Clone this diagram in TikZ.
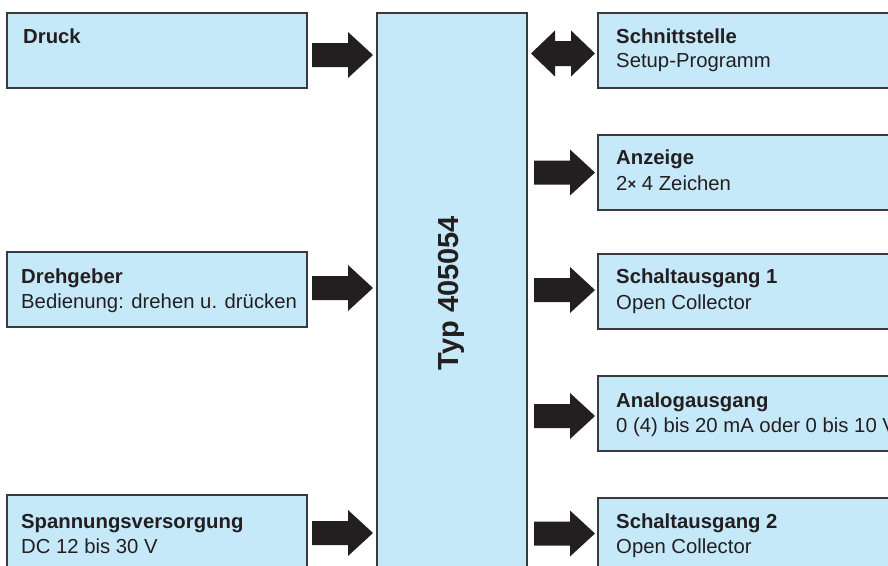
\documentclass[tikz,border=0pt]{standalone}
\usepackage{fontspec}
\setmainfont{Liberation Sans}
\usetikzlibrary{calc}
\definecolor{boxfill}{HTML}{C6E9F9}
\definecolor{boxline}{HTML}{3A3A3C}
\definecolor{arrowfill}{HTML}{231F20}
\definecolor{textcol}{HTML}{231F20}
\tikzset{
  blockbox/.style={draw=boxline, fill=boxfill, line width=1.3pt, rectangle, inner sep=0pt, outer sep=0pt, anchor=north west},
  titletext/.style={anchor=base west, inner sep=0pt, text=textcol, font=\fontsize{20.3}{24}\selectfont\bfseries},
  subtext/.style={anchor=base west, inner sep=0pt, text=textcol, font=\fontsize{20.3}{24}\selectfont},
}
\newcommand\fatarrow[5]{%
  \fill[arrowfill] let \p1=(#1), \p2=(#3), \p3=(0,#5) in
  (\x1+#2,\y3+12pt) -- (\x2-#4-25pt,\y3+12pt) -- (\x2-#4-25pt,\y3+23pt) -- (\x2-#4,\y3)
  -- (\x2-#4-25pt,\y3-23pt) -- (\x2-#4-25pt,\y3-12pt) -- (\x1+#2,\y3-12pt) -- cycle;}
\newcommand\fatdblarrow[5]{%
  \fill[arrowfill] let \p1=(#1), \p2=(#3), \p3=(0,#5) in
  (\x1+#2,\y3) -- (\x1+#2+24pt,\y3+23pt) -- (\x1+#2+24pt,\y3+12.5pt) -- (\x2-#4-24pt,\y3+12.5pt)
  -- (\x2-#4-24pt,\y3+23pt) -- (\x2-#4,\y3) -- (\x2-#4-24pt,\y3-23pt) -- (\x2-#4-24pt,\y3-12.5pt)
  -- (\x1+#2+24pt,\y3-12.5pt) -- (\x1+#2+24pt,\y3-23pt) -- cycle;}
\begin{document}
\begin{tikzpicture}[x=1pt,y=-1pt]
\useasboundingbox (0,0) rectangle (888,565);
\clip (0,0) rectangle (888,565);
% left boxes
\node[blockbox, minimum width=300pt, minimum height=75pt] (druck) at (7,13) {};
\node[blockbox, minimum width=300pt, minimum height=75pt] (dreh) at (7,252) {};
\node[blockbox, minimum width=300pt, minimum height=90pt] (spann) at (7,495) {};
% central box
\node[blockbox, minimum width=150pt, minimum height=580pt] (typ) at (377,13) {};
% right boxes
\node[blockbox, minimum width=310pt, minimum height=75pt] (schnitt) at (598,13) {};
\node[blockbox, minimum width=310pt, minimum height=75pt] (anz) at (598,135) {};
\node[blockbox, minimum width=310pt, minimum height=75pt] (sa1) at (598,254) {};
\node[blockbox, minimum width=310pt, minimum height=75pt] (ana) at (598,376) {};
\node[blockbox, minimum width=310pt, minimum height=90pt] (sa2) at (598,498) {};
% texts
\node[titletext] (druckT) at (23,43) {Druck};
\node[titletext] (drehT) at (21,283) {Drehgeber};
\node[subtext] (drehS) at (21,308) {Bedienung: drehen u. drücken};
\node[titletext] (spannT) at (21,528) {Spannungsversorgung};
\node[subtext] (spannS) at (21,553) {DC 12 bis 30 V};
\node[anchor=center, inner sep=0pt, text=textcol, rotate=90, font=\fontsize{29}{34}\selectfont\bfseries] (typT) at (451,293) {Typ 405054};
\node[titletext] (schnittT) at (616,43) {Schnittstelle};
\node[subtext] (schnittS) at (616,67) {Setup-Programm};
\node[titletext] (anzT) at (616,164) {Anzeige};
\node[subtext] (anzS) at (616,190) {2\raisebox{0.5pt}{\fontsize{15}{15}\selectfont\bfseries×} 4 Zeichen};
\node[titletext] (sa1T) at (616,283) {Schaltausgang 1};
\node[subtext] (sa1S) at (616,309) {Open Collector};
\node[titletext] (anaT) at (616,407) {Analogausgang};
\node[subtext] (anaS) at (616,432) {0 (4) bis 20 mA oder 0 bis 10 V};
\node[titletext] (sa2T) at (616,528) {Schaltausgang 2};
\node[subtext] (sa2S) at (616,553) {Open Collector};
% arrows
\fatarrow{druck.east}{5pt}{typ.west}{4pt}{55}
\fatarrow{dreh.east}{5pt}{typ.west}{4pt}{288}
\fatarrow{spann.east}{5pt}{typ.west}{4pt}{533}
\fatdblarrow{typ.east}{4pt}{schnitt.west}{3pt}{53.5}
\fatarrow{typ.east}{7pt}{anz.west}{3pt}{172.5}
\fatarrow{typ.east}{7pt}{sa1.west}{3pt}{290}
\fatarrow{typ.east}{7pt}{ana.west}{3pt}{416}
\fatarrow{typ.east}{7pt}{sa2.west}{3pt}{533.5}
\end{tikzpicture}
\end{document}
